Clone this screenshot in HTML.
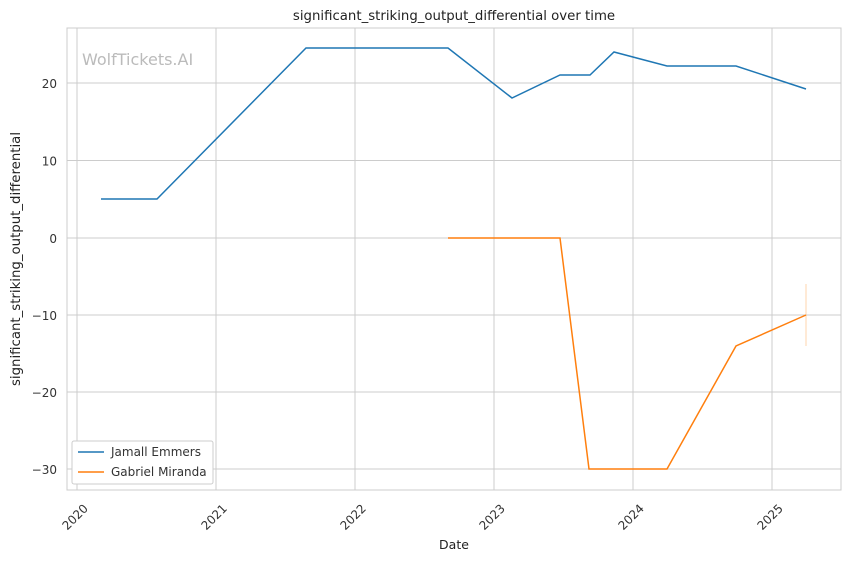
<!DOCTYPE html>
<html><head><meta charset="utf-8"><style>
body{margin:0;background:#fff;}
svg{display:block;font-family:"DejaVu Sans","Liberation Sans",sans-serif;}
</style></head><body>
<svg width="850" height="561" viewBox="0 0 850 561">
<rect width="850" height="561" fill="#fff"/>
<g stroke="#cccccc" stroke-width="1">
<line x1="77" y1="28" x2="77" y2="490"/><line x1="216" y1="28" x2="216" y2="490"/>
<line x1="355" y1="28" x2="355" y2="490"/><line x1="494" y1="28" x2="494" y2="490"/>
<line x1="633" y1="28" x2="633" y2="490"/><line x1="772" y1="28" x2="772" y2="490"/>
<line x1="67" y1="83" x2="841" y2="83"/><line x1="67" y1="160.5" x2="841" y2="160.5"/>
<line x1="67" y1="238" x2="841" y2="238"/><line x1="67" y1="315" x2="841" y2="315"/>
<line x1="67" y1="392" x2="841" y2="392"/><line x1="67" y1="469" x2="841" y2="469"/>
</g>
<rect x="67" y="28" width="774" height="462" fill="none" stroke="#cccccc" stroke-width="1"/>
<text x="82" y="65" font-size="16" fill="#bbbbbb">WolfTickets.AI</text>
<polyline fill="none" stroke="#1f77b4" stroke-width="1.5" points="101,199 157,199 306,48 448,48 512,98 560,75 590,75 614,52 667,66 736,66 806,89"/>
<line x1="806" y1="284" x2="806" y2="346" stroke="#ffbb78" stroke-width="1" opacity="0.6"/>
<polyline fill="none" stroke="#ff7f0e" stroke-width="1.5" points="448,238 560,238 589,469 667,469 736,346 806,315"/>
<g font-size="12" fill="#333" text-anchor="end">
<text x="57" y="88">20</text><text x="57" y="165.5">10</text><text x="57" y="243">0</text>
<text x="57" y="320">−10</text><text x="57" y="397">−20</text><text x="57" y="474">−30</text>
</g>
<g font-size="12" fill="#333" text-anchor="middle">
<text transform="translate(78,520) rotate(-45)">2020</text>
<text transform="translate(217,520) rotate(-45)">2021</text>
<text transform="translate(356,520) rotate(-45)">2022</text>
<text transform="translate(495,520) rotate(-45)">2023</text>
<text transform="translate(634,520) rotate(-45)">2024</text>
<text transform="translate(773,520) rotate(-45)">2025</text>
</g>
<text x="454" y="549" font-size="12.5" fill="#222" text-anchor="middle">Date</text>
<text transform="translate(20,259) rotate(-90)" font-size="13.3" fill="#222" text-anchor="middle">significant_striking_output_differential</text>
<text x="454" y="20" font-size="13.3" fill="#222" text-anchor="middle">significant_striking_output_differential over time</text>
<rect x="72" y="441" width="141" height="43" fill="#fff" stroke="#cccccc" rx="2"/>
<line x1="78" y1="452" x2="104" y2="452" stroke="#1f77b4" stroke-width="1.5"/>
<text x="111" y="456" font-size="12" fill="#333">Jamall Emmers</text>
<line x1="78" y1="472" x2="104" y2="472" stroke="#ff7f0e" stroke-width="1.5"/>
<text x="111" y="476" font-size="12" fill="#333">Gabriel Miranda</text>
</svg>
</body></html>
